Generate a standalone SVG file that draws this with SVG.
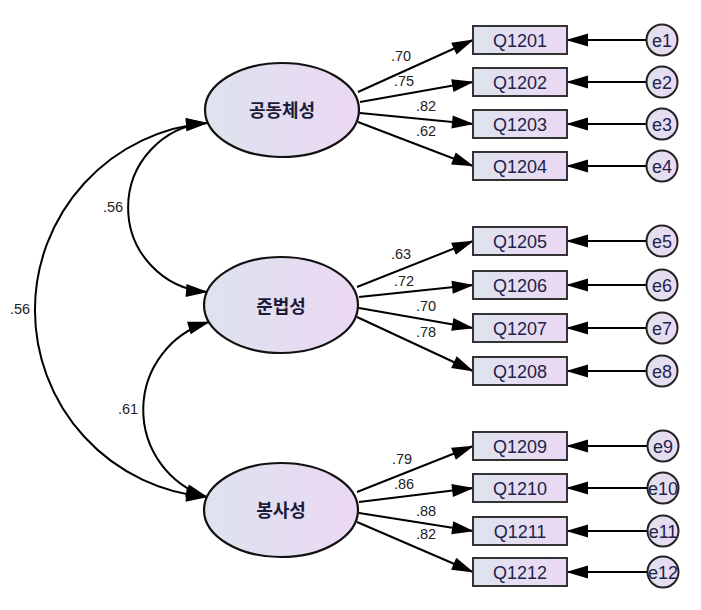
<svg xmlns="http://www.w3.org/2000/svg" width="701" height="610" viewBox="0 0 701 610">
<defs>
<linearGradient id="g" x1="0" y1="0" x2="1" y2="0">
<stop offset="0" stop-color="#dde3ee"/>
<stop offset="1" stop-color="#ecd8f4"/>
</linearGradient>
<marker id="ah" markerUnits="userSpaceOnUse" markerWidth="22" markerHeight="13" refX="21" refY="6.5" orient="auto-start-reverse" overflow="visible">
<path d="M0,0 L22,6.5 L0,13 z" fill="#000"/>
</marker>
<style>
.ln{fill:none;stroke:#000;stroke-width:2;marker-end:url(#ah)}
.cv{fill:none;stroke:#000;stroke-width:2;marker-start:url(#ah);marker-end:url(#ah)}
.lat{fill:url(#g);stroke:#111;stroke-width:2.2}
.box{fill:url(#g);stroke:#333;stroke-width:2}
.err{fill:url(#g);stroke:#222;stroke-width:2}
.lt{font-family:"Noto Sans CJK KR","Noto Sans",sans-serif;font-weight:bold;font-size:18px;fill:#1c1c3a;text-anchor:middle}
.bt{font-family:"Liberation Sans",Arial,sans-serif;font-size:18px;fill:#22224a;text-anchor:middle}
.nt{font-family:"Liberation Sans",Arial,sans-serif;font-size:14.5px;fill:#222}
</style>
</defs>
<g id="connectors">
<path class="cv" d="M207,123 A187.65,187.65 0 0 0 207,497"/>
<path class="cv" d="M207,123 A84.7,84.7 0 0 0 207,292"/>
<path class="cv" d="M209,322 A91.5,91.5 0 0 0 207,497"/>
<path class="ln" d="M358,92 L473,40"/>
<path class="ln" d="M360,102 L473,82"/>
<path class="ln" d="M360,113 L473,124"/>
<path class="ln" d="M358,122 L473,166"/>
<path class="ln" d="M357,287 L473,241"/>
<path class="ln" d="M359,297 L473,285"/>
<path class="ln" d="M359,308 L473,328"/>
<path class="ln" d="M357,317 L473,371"/>
<path class="ln" d="M357,492 L473,446"/>
<path class="ln" d="M359,502 L473,488"/>
<path class="ln" d="M359,513 L473,531"/>
<path class="ln" d="M357,522 L473,572"/>
<path class="ln" d="M647,40 L567,40"/>
<path class="ln" d="M647,82 L567,82"/>
<path class="ln" d="M647,124 L567,124"/>
<path class="ln" d="M647,166 L567,166"/>
<path class="ln" d="M647,241 L567,241"/>
<path class="ln" d="M647,285 L567,285"/>
<path class="ln" d="M647,328 L567,328"/>
<path class="ln" d="M647,371 L567,371"/>
<path class="ln" d="M647,446 L567,446"/>
<path class="ln" d="M647,488 L567,488"/>
<path class="ln" d="M647,531 L567,531"/>
<path class="ln" d="M647,572 L567,572"/>
</g>
<g id="labels">
<text class="nt" x="391" y="61">.70</text>
<text class="nt" x="394" y="86">.75</text>
<text class="nt" x="416" y="111">.82</text>
<text class="nt" x="416" y="136">.62</text>
<text class="nt" x="391" y="259">.63</text>
<text class="nt" x="394" y="286">.72</text>
<text class="nt" x="416" y="311">.70</text>
<text class="nt" x="416" y="337">.78</text>
<text class="nt" x="392" y="464">.79</text>
<text class="nt" x="394" y="489">.86</text>
<text class="nt" x="416" y="516">.88</text>
<text class="nt" x="416" y="539">.82</text>
<text class="nt" x="103" y="212">.56</text>
<text class="nt" x="10" y="314">.56</text>
<text class="nt" x="118" y="414">.61</text>
</g>
<g id="F1"><ellipse class="lat" cx="282" cy="110" rx="77" ry="47"/><text class="lt" x="282" y="116.5">공동체성</text></g>
<g id="F2"><ellipse class="lat" cx="281" cy="305" rx="77" ry="48"/><text class="lt" x="281" y="313">준법성</text></g>
<g id="F3"><ellipse class="lat" cx="281" cy="510" rx="77" ry="47"/><text class="lt" x="281" y="517">봉사성</text></g>
<g id="Q1201"><rect class="box" x="473" y="26" width="94" height="28"/><text class="bt" x="520" y="46.5">Q1201</text></g>
<g id="Q1202"><rect class="box" x="473" y="68" width="94" height="28"/><text class="bt" x="520" y="88.5">Q1202</text></g>
<g id="Q1203"><rect class="box" x="473" y="110" width="94" height="28"/><text class="bt" x="520" y="130.5">Q1203</text></g>
<g id="Q1204"><rect class="box" x="473" y="152" width="94" height="28"/><text class="bt" x="520" y="172.5">Q1204</text></g>
<g id="Q1205"><rect class="box" x="473" y="227" width="94" height="28"/><text class="bt" x="520" y="247.5">Q1205</text></g>
<g id="Q1206"><rect class="box" x="473" y="271" width="94" height="28"/><text class="bt" x="520" y="291.5">Q1206</text></g>
<g id="Q1207"><rect class="box" x="473" y="314" width="94" height="28"/><text class="bt" x="520" y="334.5">Q1207</text></g>
<g id="Q1208"><rect class="box" x="473" y="357" width="94" height="28"/><text class="bt" x="520" y="377.5">Q1208</text></g>
<g id="Q1209"><rect class="box" x="473" y="432" width="94" height="28"/><text class="bt" x="520" y="452.5">Q1209</text></g>
<g id="Q1210"><rect class="box" x="473" y="474" width="94" height="28"/><text class="bt" x="520" y="494.5">Q1210</text></g>
<g id="Q1211"><rect class="box" x="473" y="517" width="94" height="28"/><text class="bt" x="520" y="537.5">Q1211</text></g>
<g id="Q1212"><rect class="box" x="473" y="558" width="94" height="28"/><text class="bt" x="520" y="578.5">Q1212</text></g>
<g id="e1"><circle class="err" cx="662" cy="40" r="15.5"/><text class="bt" x="662" y="46.5">e1</text></g>
<g id="e2"><circle class="err" cx="662" cy="82" r="15.5"/><text class="bt" x="662" y="88.5">e2</text></g>
<g id="e3"><circle class="err" cx="662" cy="124" r="15.5"/><text class="bt" x="662" y="130.5">e3</text></g>
<g id="e4"><circle class="err" cx="662" cy="166" r="15.5"/><text class="bt" x="662" y="172.5">e4</text></g>
<g id="e5"><circle class="err" cx="662" cy="241" r="15.5"/><text class="bt" x="662" y="247.5">e5</text></g>
<g id="e6"><circle class="err" cx="662" cy="285" r="15.5"/><text class="bt" x="662" y="291.5">e6</text></g>
<g id="e7"><circle class="err" cx="662" cy="328" r="15.5"/><text class="bt" x="662" y="334.5">e7</text></g>
<g id="e8"><circle class="err" cx="662" cy="371" r="15.5"/><text class="bt" x="662" y="377.5">e8</text></g>
<g id="e9"><circle class="err" cx="663" cy="446" r="15.5"/><text class="bt" x="663" y="452.5">e9</text></g>
<g id="e10"><circle class="err" cx="663" cy="488" r="15.5"/><text class="bt" x="663" y="494.5">e10</text></g>
<g id="e11"><circle class="err" cx="663" cy="531" r="15.5"/><text class="bt" x="663" y="537.5">e11</text></g>
<g id="e12"><circle class="err" cx="663" cy="572" r="15.5"/><text class="bt" x="663" y="578.5">e12</text></g>
</svg>
